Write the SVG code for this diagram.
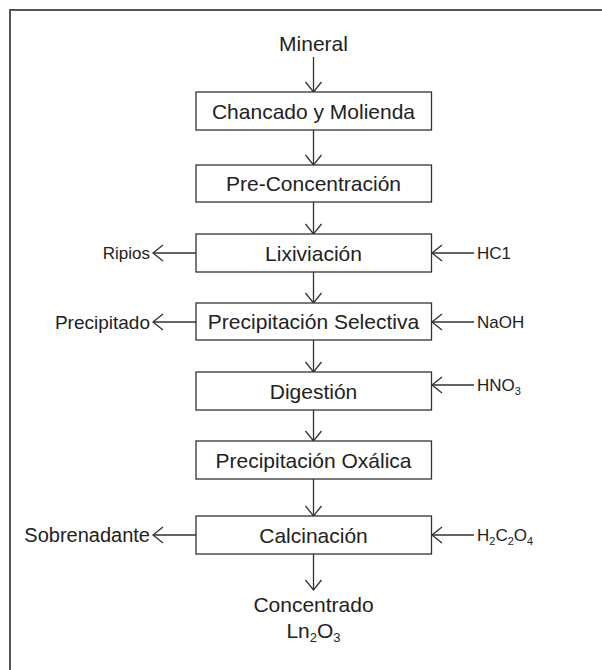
<svg xmlns="http://www.w3.org/2000/svg" width="602" height="670" viewBox="0 0 602 670">
<style>
.box{fill:#fff;stroke:#333;stroke-width:1.3}
.t{font-family:"Liberation Sans",Arial,sans-serif;font-size:21px;fill:#222;text-anchor:middle}
.s{font-family:"Liberation Sans",Arial,sans-serif;font-size:17px;fill:#222}
.c{stroke:#333;stroke-width:1.3;fill:none;marker-end:url(#ah)}
</style>
<defs>
<marker id="ah" markerUnits="userSpaceOnUse" markerWidth="20" markerHeight="20" viewBox="-12 -10 14 20" refX="0" refY="0" orient="auto">
<path d="M-10,-8 L0,0 L-10,8" fill="none" stroke="#333" stroke-width="1.3"/>
</marker>
</defs>
<rect x="10" y="10" width="620" height="700" fill="#fff" stroke="#555" stroke-width="2"/>
<g id="connectors">
<line class="c" x1="313.5" y1="57" x2="313.5" y2="92"/>
<line class="c" x1="313.5" y1="130" x2="313.5" y2="165"/>
<line class="c" x1="313.5" y1="202" x2="313.5" y2="234"/>
<line class="c" x1="313.5" y1="272" x2="313.5" y2="303"/>
<line class="c" x1="313.5" y1="340" x2="313.5" y2="372"/>
<line class="c" x1="313.5" y1="410" x2="313.5" y2="441"/>
<line class="c" x1="313.5" y1="479" x2="313.5" y2="516"/>
<line class="c" x1="313.5" y1="554" x2="313.5" y2="590"/>
<line class="c" x1="196" y1="253" x2="153" y2="253"/>
<line class="c" x1="196" y1="322" x2="153" y2="322"/>
<line class="c" x1="196" y1="535" x2="153" y2="535"/>
<line class="c" x1="474" y1="253" x2="432" y2="253"/>
<line class="c" x1="474" y1="322" x2="432" y2="322"/>
<line class="c" x1="474" y1="385" x2="432" y2="385"/>
<line class="c" x1="474" y1="535" x2="432" y2="535"/>
</g>
<g id="mineral"><text class="t" x="313.5" y="51">Mineral</text></g>
<g id="chancado"><rect class="box" x="196" y="92" width="235.5" height="38"/><text class="t" x="313.5" y="118.5">Chancado y Molienda</text></g>
<g id="precon"><rect class="box" x="196" y="165" width="235.5" height="37"/><text class="t" x="313.5" y="191">Pre-Concentración</text></g>
<g id="lixiviacion"><rect class="box" x="196" y="234" width="235.5" height="38"/><text class="t" x="313.5" y="260.5">Lixiviación</text></g>
<g id="precsel"><rect class="box" x="196" y="303" width="235.5" height="37"/><text class="t" x="313.5" y="329">Precipitación Selectiva</text></g>
<g id="digestion"><rect class="box" x="196" y="372" width="235.5" height="38"/><text class="t" x="313.5" y="398.5">Digestión</text></g>
<g id="precox"><rect class="box" x="196" y="441" width="235.5" height="38"/><text class="t" x="313.5" y="467.5">Precipitación Oxálica</text></g>
<g id="calcinacion"><rect class="box" x="196" y="516" width="235.5" height="38"/><text class="t" x="313.5" y="542.5">Calcinación</text></g>
<g id="concentrado"><text class="t" x="313.5" y="612">Concentrado</text><text class="t" x="313.5" y="638">Ln<tspan font-size="13" dy="4">2</tspan><tspan dy="-4">O</tspan><tspan font-size="13" dy="4">3</tspan></text></g>
<g id="ripios"><text class="s" x="150" y="259" text-anchor="end">Ripios</text></g>
<g id="precipitado"><text class="s" x="150" y="328.5" text-anchor="end" style="font-size:19px">Precipitado</text></g>
<g id="sobrenadante"><text class="s" x="150" y="542" text-anchor="end" style="font-size:20px">Sobrenadante</text></g>
<g id="hcl"><text class="s" x="477" y="259">HC1</text></g>
<g id="naoh"><text class="s" x="477" y="328">NaOH</text></g>
<g id="hno3"><text class="s" x="477" y="391">HNO<tspan style="font-size:11px" dy="4">3</tspan></text></g>
<g id="h2c2o4"><text class="s" x="477" y="541">H<tspan style="font-size:11px" dy="4">2</tspan><tspan dy="-4">C</tspan><tspan style="font-size:11px" dy="4">2</tspan><tspan dy="-4">O</tspan><tspan style="font-size:11px" dy="4">4</tspan></text></g>
</svg>
